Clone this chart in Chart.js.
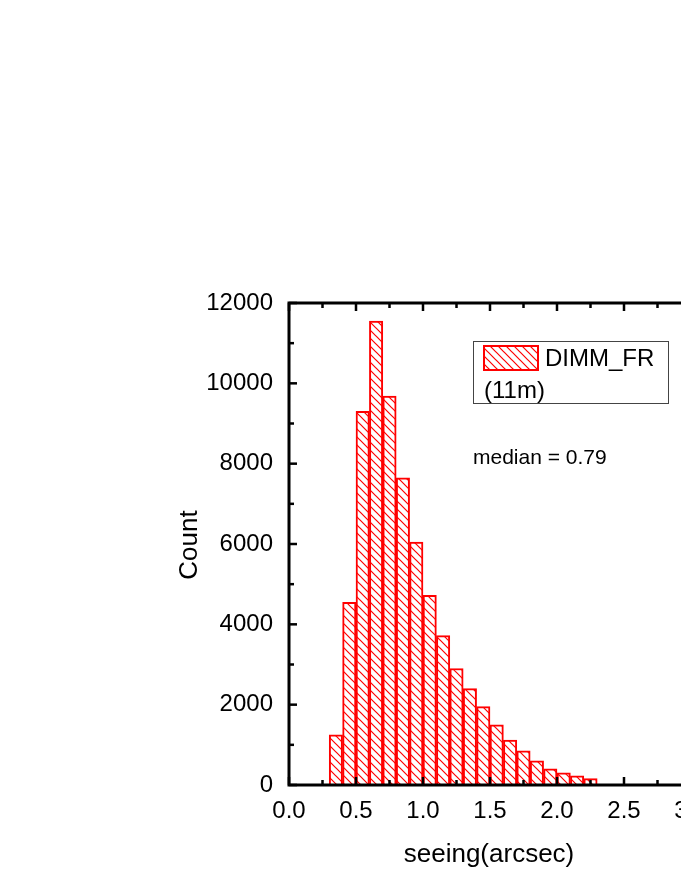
<!DOCTYPE html>
<html><head><meta charset="utf-8">
<script src="https://cdn.jsdelivr.net/npm/chart.js@4"></script>
<style>html,body{margin:0;padding:0;background:#fff;overflow:hidden}#wrap{width:720px;height:881px}</style>
</head><body><div id="wrap"><canvas id="c"></canvas></div>
<script>
const binCenters = [0.25,0.35,0.45,0.55,0.65,0.75,0.85,0.95,1.05,1.15,1.25,1.35,1.45,1.55,1.65,1.75,1.85,1.95,2.05,2.15,2.25];
const counts = [15,1250,4550,9300,11550,9680,7650,6050,4720,3720,2900,2400,1950,1500,1120,850,600,400,300,230,160];
const xTicks = [0,0.5,1,1.5,2,2.5,3];
const yTicks = [0,2000,4000,6000,8000,10000,12000];

function hatch(){
  const n = 8;
  const p = document.createElement('canvas'); p.width = n; p.height = n;
  const g = p.getContext('2d');
  g.fillStyle = '#fff'; g.fillRect(0,0,n,n);
  g.strokeStyle = 'red'; g.lineWidth = 1.2;
  g.beginPath(); g.moveTo(0,0); g.lineTo(n,n); g.moveTo(-n/2,n/2); g.lineTo(n/2,n*1.5); g.moveTo(n/2,-n/2); g.lineTo(n*1.5,n/2); g.stroke();
  return g.createPattern(p,'repeat');
}
const fillPat = hatch();
const font = 'Liberation Sans, Arial, sans-serif';

const frame = {
  id:'frame',
  afterDraw(ch){
    const {ctx, chartArea:a, scales:{x,y}} = ch;
    ctx.save();
    ctx.strokeStyle = '#000'; ctx.lineWidth = 3;
    ctx.strokeRect(a.left, a.top, a.right-a.left, a.bottom-a.top);
    ctx.lineWidth = 2.5;
    for(let v=0; v<=3.001; v+=0.25){
      const px = x.getPixelForValue(v), L = (Math.abs(v*2-Math.round(v*2))<1e-6)?8:5;
      ctx.beginPath(); ctx.moveTo(px,a.bottom); ctx.lineTo(px,a.bottom-L);
      ctx.moveTo(px,a.top); ctx.lineTo(px,a.top+L); ctx.stroke();
    }
    for(let v=0; v<=12000; v+=1000){
      const py = y.getPixelForValue(v), L = v%2000===0?8:5;
      ctx.beginPath(); ctx.moveTo(a.left,py); ctx.lineTo(a.left+L,py); ctx.stroke();
    }
    ctx.fillStyle = '#000'; ctx.textAlign = 'center';
    ctx.font = '26px '+font;
    ctx.fillText('seeing(arcsec)', 489, 862);
    ctx.save(); ctx.translate(197,545); ctx.rotate(-Math.PI/2); ctx.fillText('Count',0,0); ctx.restore();
    // legend
    ctx.lineWidth = 1; ctx.strokeStyle = '#444';
    ctx.strokeRect(473.5,341.5,195,62);
    ctx.fillStyle = fillPat; ctx.fillRect(484,346,54,24);
    ctx.strokeStyle = 'red'; ctx.lineWidth = 2; ctx.strokeRect(484,346,54,24);
    ctx.fillStyle = '#000'; ctx.textAlign = 'left'; ctx.textBaseline = 'middle';
    ctx.font = '24px '+font;
    ctx.fillText('DIMM_FR', 545, 359);
    ctx.fillText('(11m)', 484, 391);
    ctx.font = '21px '+font;
    ctx.fillText('median = 0.79', 473, 458);
    ctx.restore();
  }
};

new Chart(document.getElementById('c'), {
  type:'bar',
  data:{ datasets:[{ data: binCenters.map((c,i)=>({x:c,y:counts[i]})),
    backgroundColor: fillPat, borderColor:'red', borderWidth:2,
    barPercentage:1, categoryPercentage:1, grouped:false }] },
  options:{
    responsive:true, maintainAspectRatio:false, animation:false,
    layout:{padding:{top:303,right:29,left:0,bottom:0}},
    plugins:{legend:{display:false}, tooltip:{enabled:false}},
    scales:{
      x:{ type:'linear', min:0, max:3, offset:false,
        afterBuildTicks:s=>{s.ticks = xTicks.map(v=>({value:v}));},
        afterFit:s=>{s.height = 96;},
        grid:{display:false}, border:{display:false},
        ticks:{color:'#000', font:{family:font,size:24}, padding:4, maxRotation:0,
          callback:v=>v.toFixed(1)} },
      y:{ min:0, max:12000,
        afterBuildTicks:s=>{s.ticks = yTicks.map(v=>({value:v}));},
        afterFit:s=>{s.width = 289;},
        grid:{display:false}, border:{display:false},
        ticks:{color:'#000', font:{family:font,size:24}, padding:8, callback:v=>String(v)} }
    }
  },
  plugins:[frame]
});
</script></body></html>
